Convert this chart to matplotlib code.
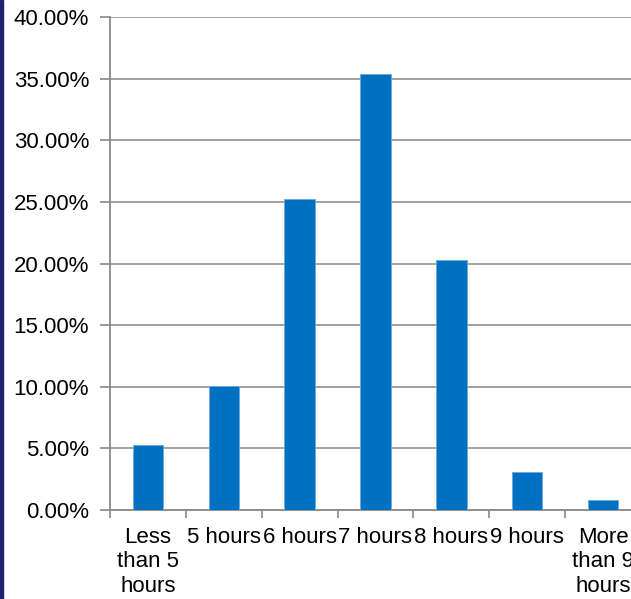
import matplotlib
matplotlib.use("Agg")
import matplotlib.pyplot as plt
from matplotlib.ticker import FuncFormatter, MultipleLocator, FixedLocator
from matplotlib.patches import Rectangle

categories = ["Less\nthan 5\nhours", "5 hours", "6 hours", "7 hours", "8 hours", "9 hours", "More\nthan 9\nhours"]
values = [5.3, 10.1, 25.2, 35.4, 20.3, 3.1, 0.8]

plt.rcParams['font.family'] = ['Liberation Sans', 'DejaVu Sans']

W, H = 631, 599
fig = plt.figure(figsize=(W / 100, H / 100), dpi=100)
fig.patch.set_facecolor('white')

left = 110 / W
bottom = (H - 510) / H
top = (H - 17) / H
right = 641 / W
ax = fig.add_axes([left, bottom, right - left, top - bottom])

x = list(range(len(categories)))
ax.bar(x, values, width=0.4, color='#0070C0', edgecolor='#6FA8DC', linewidth=0.7, zorder=3)

ax.set_xlim(-0.5, len(categories) - 0.5)
ax.set_ylim(0, 40)
ax.yaxis.set_major_locator(MultipleLocator(5))
ax.yaxis.set_major_formatter(FuncFormatter(lambda v, p: f"{v:.2f}%"))
ax.grid(axis='y', color='#9a9a9a', linewidth=1.3, zorder=0)
ax.set_axisbelow(True)

ax.set_xticks(x)
ax.set_xticklabels(categories, linespacing=1.22)
ax.xaxis.set_minor_locator(FixedLocator([i - 0.5 for i in range(len(categories) + 1)]))
ax.tick_params(axis='x', which='major', length=0, pad=12, labelsize=16, colors='black')
ax.tick_params(axis='x', which='minor', length=6, width=1.2, color='#8a8a8a', direction='out')
ax.tick_params(axis='y', which='major', length=7, width=1.2, color='#8a8a8a', pad=8, labelsize=16, labelcolor='black')

for s in ['top', 'right']:
    ax.spines[s].set_visible(False)
for s in ['left', 'bottom']:
    ax.spines[s].set_color('#8a8a8a')
    ax.spines[s].set_linewidth(1.3)

fig.patches.append(Rectangle((0, 0), 3 / W, 1, transform=fig.transFigure, color='#1f1f6b', zorder=10))

fig.savefig('out.png', dpi=100, facecolor='white')
